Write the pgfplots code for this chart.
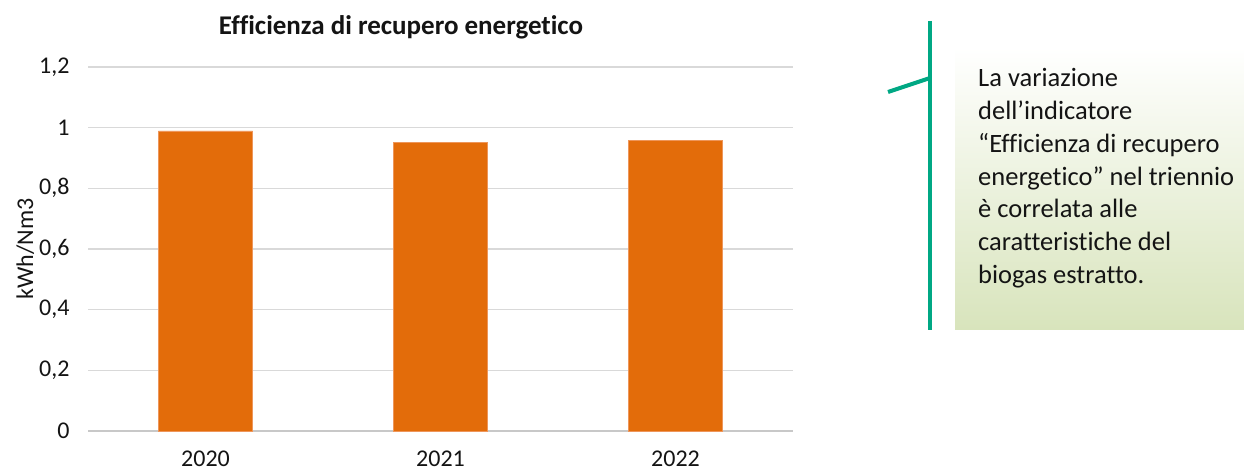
\documentclass[border=0pt]{standalone}
\usepackage{pgfplots}
\pgfplotsset{compat=1.18}
\usepackage{fontspec}
\setmainfont{Carlito}[Ligatures={NoCommon}]
\definecolor{barorange}{RGB}{227,108,10}
\definecolor{baredge}{RGB}{238,150,90}
\definecolor{gridgray}{RGB}{217,217,217}
\definecolor{axgray}{RGB}{200,200,200}
\definecolor{callgreen}{RGB}{0,168,132}
\definecolor{boxgreen}{RGB}{216,228,188}
\definecolor{txt}{RGB}{20,20,20}
\begin{document}
\begin{tikzpicture}[x=1pt,y=1pt]
\useasboundingbox (0,0) rectangle (1244,473);
\begin{axis}[
  at={(88pt,42pt)}, anchor=south west,
  scale only axis, width=705pt, height=364pt,
  xmin=-0.5, xmax=2.5, ymin=0, ymax=1.2,
  axis x line*=bottom, axis y line*=left,
  x axis line style={draw=axgray, line width=1.2pt},
  y axis line style={draw=none},
  ytick={0,0.2,0.4,0.6,0.8,1,1.2},
  ymajorgrids, major grid style={gridgray, line width=1.3pt},
  ytick style={draw=none},
  xtick={0,1,2}, xticklabels={2020,2021,2022},
  xtick style={draw=none},
  extra x ticks={-0.5,0.5,1.5,2.5}, extra x tick labels={},
  extra x tick style={grid=none, tick align=outside, major tick length=7pt,
     tick style={draw=axgray, line width=1.2pt}},
  /pgf/number format/assume math mode=true,
  /pgf/number format/use comma,
  /pgf/number format/fixed,
  ticklabel style={font=\fontsize{24}{28}\selectfont, text=txt},
  yticklabel style={xshift=-15pt},
  xticklabel style={yshift=-16pt},
  ylabel={kWh/Nm3},
  ylabel style={at={(axis description cs:-0.089,0.5)}, anchor=center, font=\fontsize{24}{28}\selectfont, text=txt},
  clip=false,
]
\addplot[ybar, bar width=94.4pt, fill=barorange, draw=baredge, line width=0.6pt]
  coordinates {(0,0.989) (1,0.951) (2,0.959)};
\end{axis}
% title
\node[anchor=base, font=\fontsize{27}{32}\selectfont\bfseries, text=txt] at (401,438) {Efficienza di recupero energetico};
% callout
\shade[top color=white, bottom color=boxgreen] (955,143) rectangle (1244,426);
\draw[callgreen, line width=4pt] (930,452) -- (930,143);
\draw[callgreen, line width=4pt] (888,381) -- (930,395);
\begin{scope}[every node/.style={anchor=base west, inner sep=0pt, font=\fontsize{26.5}{30}\selectfont, text=txt}]
\node at (978,386) {La variazione};
\node at (978,353.3) {dell’indicatore};
\node at (978,320.6) {“Efficienza di recupero};
\node at (978,287.9) {energetico” nel triennio};
\node at (978,255.2) {è correlata alle};
\node at (978,222.5) {caratteristiche del};
\node at (978,189.8) {biogas estratto.};
\end{scope}
\end{tikzpicture}
\end{document}
